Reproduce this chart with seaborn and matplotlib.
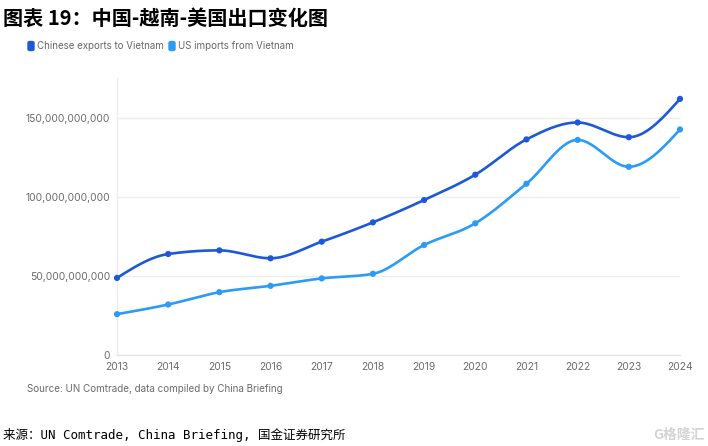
import numpy as np
import pandas as pd
import matplotlib
matplotlib.use("Agg")
import matplotlib.pyplot as plt
import seaborn as sns
from matplotlib.patches import FancyBboxPatch

years = [2013, 2014, 2015, 2016, 2017, 2018, 2019, 2020, 2021, 2022, 2023, 2024]
china_exports = [48.7e9, 63.8e9, 66.1e9, 61.1e9, 71.6e9, 83.8e9, 97.9e9, 113.9e9, 136.2e9, 146.9e9, 137.6e9, 161.8e9]
us_imports = [25.8e9, 31.9e9, 39.7e9, 43.7e9, 48.4e9, 51.3e9, 69.5e9, 83.2e9, 108.2e9, 135.9e9, 118.9e9, 142.5e9]
series_names = ["Chinese exports to Vietnam", "US imports from Vietnam"]
y_ticks = [0, 50e9, 100e9, 150e9]

DARK = "#1c58d9"
LIGHT = "#2a9cf6"


def monotone_curve(x, y, n=30):
    """d3 curveMonotoneX-style rendering of the line between the data points."""
    x = np.asarray(x, float)
    y = np.asarray(y, float)
    h = np.diff(x)
    s = np.diff(y) / h
    m = np.zeros_like(y)
    for i in range(1, len(y) - 1):
        h0, h1 = h[i - 1], h[i]
        s0, s1 = s[i - 1], s[i]
        p = (s0 * h1 + s1 * h0) / (h0 + h1)
        m[i] = (np.sign(s0) + np.sign(s1)) * min(abs(s0), abs(s1), 0.5 * abs(p))
    m[0] = (3 * s[0] - m[1]) / 2
    m[-1] = (3 * s[-1] - m[-2]) / 2
    xs, ys = [], []
    for i in range(len(y) - 1):
        t = np.linspace(0, 1, n, endpoint=False)
        h00 = 2 * t**3 - 3 * t**2 + 1
        h10 = t**3 - 2 * t**2 + t
        h01 = -2 * t**3 + 3 * t**2
        h11 = t**3 - t**2
        xs.append(x[i] + t * h[i])
        ys.append(h00 * y[i] + h10 * h[i] * m[i] + h01 * y[i + 1] + h11 * h[i] * m[i + 1])
    xs.append([x[-1]])
    ys.append([y[-1]])
    return np.concatenate(xs), np.concatenate(ys)


sns.set_theme(style="white")
plt.rcParams["font.family"] = ["Inter", "Noto Sans CJK SC", "DejaVu Sans"]

fig = plt.figure(figsize=(7.08, 4.46), dpi=100)
ax = fig.add_axes([117 / 708, 1 - 355 / 446, (680 - 117) / 708, (355 - 78) / 446])

pts = pd.DataFrame({
    "year": years * 2,
    "value": china_exports + us_imports,
    "series": [series_names[0]] * len(years) + [series_names[1]] * len(years),
})
curves = []
for name, vals in zip(series_names, [china_exports, us_imports]):
    cx, cy = monotone_curve(years, vals)
    curves.append(pd.DataFrame({"year": cx, "value": cy, "series": name}))
curves = pd.concat(curves, ignore_index=True)

palette = {series_names[0]: DARK, series_names[1]: LIGHT}
sns.lineplot(data=curves, x="year", y="value", hue="series", palette=palette,
             linewidth=1.9, legend=False, ax=ax, estimator=None, sort=False)
sns.scatterplot(data=pts, x="year", y="value", hue="series", palette=palette,
                s=20, linewidth=0, legend=False, ax=ax, clip_on=False, zorder=5)

ax.set_xlim(2013, 2024)
ax.set_ylim(0, 175e9)
ax.set_xticks(years)
ax.set_xticklabels([str(y) for y in years])
ax.set_yticks(y_ticks)
ax.set_yticklabels([f"{int(v):,}" for v in y_ticks])
ax.set_xlabel("")
ax.set_ylabel("")
ax.tick_params(axis="both", length=0, labelsize=7.4, labelcolor="#6b6b6b")
ax.tick_params(axis="y", pad=5)
ax.tick_params(axis="x", pad=5)
ax.grid(axis="y", color="#eeeeee", linewidth=1)
for side in ["top", "right"]:
    ax.spines[side].set_visible(False)
ax.spines["left"].set_color("#eeeeee")
ax.spines["bottom"].set_color("#e6e6e6")
ax.spines["left"].set_linewidth(1)
ax.spines["bottom"].set_linewidth(1)

# Title
fig.text(3 / 708, 1 - 18 / 446, "图表 19：中国-越南-美国出口变化图", fontsize=14.5,
         fontweight="bold", fontstyle="italic", color="black", va="center", ha="left",
         family=["Noto Sans CJK SC", "DejaVu Sans"])

# Legend
for lx, name, col in [(28, series_names[0], DARK), (169, series_names[1], LIGHT)]:
    fig.patches.append(FancyBboxPatch((lx / 708, 1 - 50.5 / 446), 6 / 708, 9 / 446,
                                      boxstyle="round,pad=0,rounding_size=0.003",
                                      transform=fig.transFigure, color=col, figure=fig))
    fig.text((lx + 9) / 708, 1 - 46 / 446, name, fontsize=7.0, color="#666666",
             va="center", ha="left")

# Source note
fig.text(27 / 708, 1 - 389 / 446, "Source: UN Comtrade, data compiled by China Briefing",
         fontsize=7.1, color="#6b6b6b", va="center", ha="left")

# Bottom source
fig.text(3 / 708, 1 - 435 / 446, "来源：UN Comtrade, China Briefing, 国金证券研究所",
         fontsize=9, color="black", va="center", ha="left",
         family=["DejaVu Sans Mono", "Noto Sans CJK SC"])

# Watermark
fig.text(705 / 708, 1 - 435 / 446, "G格隆汇", fontsize=10, color="#d4d4d4",
         va="center", ha="right", fontweight="bold",
         family=["Noto Sans CJK SC", "DejaVu Sans"])

fig.savefig("out.png", dpi=100)
